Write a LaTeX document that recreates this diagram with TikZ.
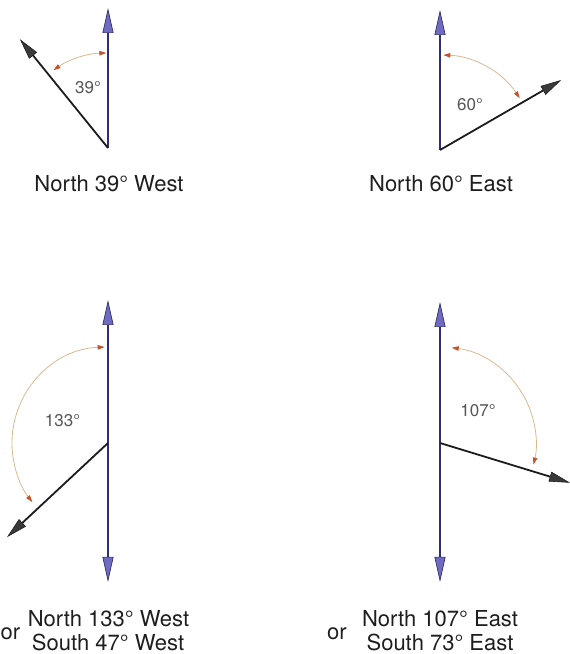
\documentclass[tikz,border=0pt]{standalone}
\usepackage{fontspec}
\setmainfont{TeX Gyre Heros}
\usetikzlibrary{arrows.meta,calc}
\definecolor{navy}{HTML}{2E2F6E}
\definecolor{peri}{HTML}{6E6BC0}
\definecolor{blk}{HTML}{1C1C1C}
\definecolor{blkfill}{HTML}{3A3A3A}
\definecolor{arcline}{HTML}{D9B98F}
\definecolor{arcred}{HTML}{C4532A}
\definecolor{lblgray}{HTML}{555555}
\definecolor{captxt}{HTML}{1E1E1E}
\begin{document}
\begin{tikzpicture}[x=1pt,y=1pt,
  bluetip/.tip={Triangle[length=25pt,width=11pt,fill=peri,color=navy,line width=0.7pt]},
  blacktip/.tip={Triangle[length=21pt,width=10pt,fill=blkfill,color=blk,line width=0.6pt]},
  arctip/.tip={Triangle[length=7pt,width=4.5pt,color=arcred]},
  northline/.style={draw=navy,line width=2pt,-bluetip},
  bothline/.style={draw=navy,line width=2pt,bluetip-bluetip},
  bearing/.style={draw=blk,line width=1.8pt,-blacktip},
  anglearc/.style={draw=arcline,line width=0.8pt,arctip-arctip},
  anglelbl/.style={text=lblgray,font=\fontsize{17}{19}\selectfont,inner sep=0pt},
  caption/.style={text=captxt,font=\fontsize{22}{24}\selectfont,inner sep=0pt,anchor=base}]
\useasboundingbox (0,0) rectangle (570,654);

% ---------- Panel 1: North 39 West ----------
\coordinate (O1) at (108,506);
\coordinate (N1) at (108,646);
\coordinate (B1) at ($(O1)+(129:140)$);
\draw[northline] (O1) -- (N1);
\draw[bearing] (O1) -- (B1);
\draw[anglearc] ($(O1)+(91:95)$) arc[start angle=91,end angle=125,radius=95pt];
\node[anglelbl] (L1) at (88,566) {39°};
\node[caption] (C1) at (109,462) {North 39° West};

% ---------- Panel 2: North 60 East ----------
\coordinate (O2) at (440,504);
\coordinate (N2) at (440,644);
\coordinate (B2) at ($(O2)+(30:140)$);
\draw[northline] (O2) -- (N2);
\draw[bearing] (O2) -- (B2);
\draw[anglearc] ($(O2)+(88:95)$) arc[start angle=88,end angle=33,radius=95pt];
\node[anglelbl] (L2) at (470,549) {60°};
\node[caption] (C2) at (441,462) {North 60° East};

% ---------- Panel 3: North 133 West ----------
\coordinate (O3) at (108,211);
\coordinate (N3) at (108,354);
\coordinate (S3) at (108,72);
\coordinate (B3) at ($(O3)+(223:138)$);
\draw[bothline] (S3) -- (N3);
\draw[bearing] (O3) -- (B3);
\draw[anglearc] ($(O3)+(92:96)$) arc[start angle=92,end angle=218,radius=96pt];
\node[anglelbl] (L3) at (62.5,233) {133°};
\node[caption] (C3a) at (108.5,27.5) {North 133° West};
\node[caption] (C3b) at (108,4) {South 47° West};
\node[caption,anchor=base west] (or3) at (0.5,14) {or};

% ---------- Panel 4: North 107 East ----------
\coordinate (O4) at (440,211);
\coordinate (N4) at (440,352);
\coordinate (S4) at (440,72);
\coordinate (B4) at ($(O4)+(-17:136)$);
\draw[bothline] (S4) -- (N4);
\draw[bearing] (O4) -- (B4);
\draw[anglearc] ($(O4)+(83:96)$) arc[start angle=83,end angle=-13,radius=96pt];
\node[anglelbl] (L4) at (478,243) {107°};
\node[caption] (C4a) at (440,27.5) {North 107° East};
\node[caption] (C4b) at (440,4) {South 73° East};
\node[caption,anchor=base east] (or4) at (347,14) {or};
\end{tikzpicture}
\end{document}
